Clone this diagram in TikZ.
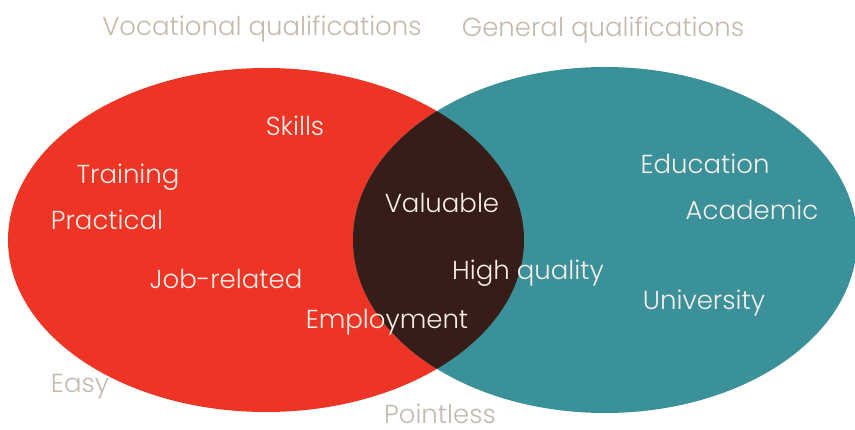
\documentclass[tikz,border=0pt]{standalone}
\usepackage{fontspec}
\setmainfont{Poppins}[UprightFont=* Light]
\definecolor{vred}{RGB}{238,52,36}
\definecolor{gteal}{RGB}{58,145,153}
\definecolor{lens}{RGB}{54,29,23}
\definecolor{outtext}{RGB}{196,186,172}
\definecolor{intext}{RGB}{245,238,232}
\begin{document}
\begin{tikzpicture}[x=1pt,y=-1pt,
  intxt/.style={text=intext,inner sep=0pt,anchor=base,font=\fontsize{26}{30}\selectfont},
  outtxt/.style={text=outtext,inner sep=0pt,anchor=base,font=\fontsize{26}{30}\selectfont}]
\useasboundingbox (0,0) rectangle (855,430);
\fill[vred] (266,240) ellipse [x radius=258, y radius=172];
\fill[gteal] (605,240) ellipse [x radius=252, y radius=173];
\begin{scope}
  \clip (266,240) ellipse [x radius=258, y radius=172];
  \fill[lens] (605,240) ellipse [x radius=252, y radius=173];
\end{scope}
\node[outtxt] (voc) at (262,36) {Vocational qualifications};
\node[outtxt] (gen) at (603,37) {General qualifications};
\node[outtxt] (easy) at (80,393) {Easy};
\node[outtxt] (pointless) at (440,424) {Pointless};
\node[intxt] (skills) at (295,136) {Skills};
\node[intxt] (training) at (128,184) {Training};
\node[intxt] (practical) at (107,230) {Practical};
\node[intxt] (job) at (226,289) {Job-related};
\node[intxt] (employment) at (387,329) {Employment};
\node[intxt] (valuable) at (442,213) {Valuable};
\node[intxt] (high) at (528,280) {High quality};
\node[intxt] (education) at (705,174) {Education};
\node[intxt] (academic) at (752,220) {Academic};
\node[intxt] (university) at (704,310) {University};
\end{tikzpicture}
\end{document}
